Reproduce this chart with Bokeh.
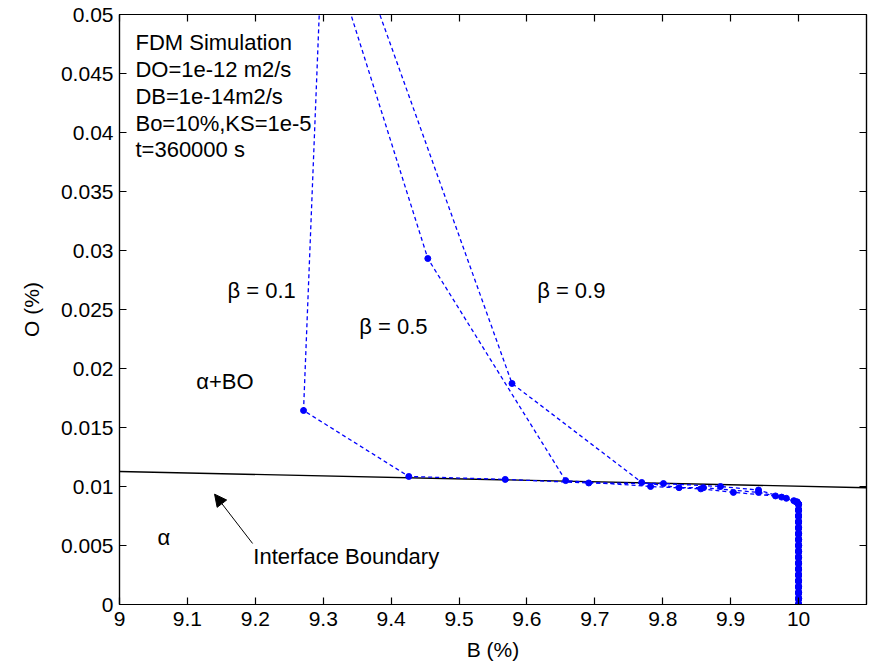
from bokeh.plotting import figure
from bokeh.models import (Range1d, LinearAxis, FixedTicker, CustomJSTickFormatter,
                          Label, Arrow, NormalHead)
from bokeh.embed import file_html
from bokeh.resources import INLINE

# ---- data -------------------------------------------------------------
# phase-interface boundary (B %, O %)
boundary_b = [9.0, 10.1]
boundary_o = [0.01127, 0.00990]

# shared tail of every diffusion path: B stays at 10 % while O drops to 0
tail_o = [0.0085, 0.0080, 0.0075, 0.0070, 0.0065, 0.0060, 0.0055, 0.0050, 0.0045,
          0.0040, 0.0035, 0.0030, 0.0025, 0.0020, 0.0015, 0.0010, 0.0005, 0.0]
tail_b = [10.0] * len(tail_o)

beta01_b = [9.301, 9.271, 9.426, 9.568, 9.691, 9.801, 9.885, 9.941, 9.982, 9.996]
beta01_o = [0.0600, 0.01644, 0.01085, 0.0106, 0.0103, 0.01025, 0.0100, 0.0097, 0.0090, 0.0087]

beta05_b = [9.286, 9.454, 9.657, 9.782, 9.856, 9.904, 9.966, 9.993]
beta05_o = [0.0600, 0.02932, 0.0105, 0.0100, 0.0098, 0.0095, 0.0092, 0.0088]

beta09_b = [9.321, 9.578, 9.769, 9.824, 9.860, 9.941, 9.975, 9.998]
beta09_o = [0.0600, 0.01873, 0.01034, 0.0099, 0.0099, 0.0095, 0.0091, 0.0087]

x_ticks = [9.0, 9.1, 9.2, 9.3, 9.4, 9.5, 9.6, 9.7, 9.8, 9.9, 10.0]
y_ticks = [0.0, 0.005, 0.01, 0.015, 0.02, 0.025, 0.03, 0.035, 0.04, 0.045, 0.05]

info_lines = ["FDM Simulation", "DO=1e-12 m2/s", "DB=1e-14m2/s",
              "Bo=10%,KS=1e-5", "t=360000 s"]

FONT = "Liberation Sans"
TICK_FS = "21px"
TEXT_FS = "22px"
BLUE = "#0000ff"

# ---- figure -----------------------------------------------------------
p = figure(width=872, height=667, output_backend="svg", toolbar_location=None,
           x_range=Range1d(9.0, 10.1), y_range=Range1d(0.0, 0.05),
           min_border_left=119, min_border_right=6, min_border_top=14,
           min_border_bottom=63)
p.grid.visible = False
p.outline_line_color = "black"
p.outline_line_width = 1.2
p.background_fill_color = "white"
p.border_fill_color = "white"

fmt = CustomJSTickFormatter(code="""
    var s = tick.toFixed(3);
    s = s.replace(/0+$/, '').replace(/\\.$/, '');
    return s;
""")
blank_fmt = CustomJSTickFormatter(code="return '';")

def style_axis(ax, ticks, formatter):
    ax.ticker = FixedTicker(ticks=ticks)
    ax.formatter = formatter
    ax.major_tick_in = 7
    ax.major_tick_out = 0
    ax.minor_tick_in = 0
    ax.minor_tick_out = 0
    ax.axis_line_color = "black"
    ax.axis_line_width = 1.2
    ax.major_tick_line_color = "black"
    ax.major_tick_line_width = 1.2
    ax.major_label_text_font = FONT
    ax.major_label_text_font_size = TICK_FS
    ax.major_label_text_color = "black"
    ax.axis_label_text_font = FONT
    ax.axis_label_text_font_size = TICK_FS
    ax.axis_label_text_font_style = "normal"
    ax.axis_label_text_color = "black"

style_axis(p.xaxis[0], x_ticks, fmt)
style_axis(p.yaxis[0], y_ticks, fmt)
p.xaxis[0].axis_label = "B (%)"
p.yaxis[0].axis_label = "O (%)"
p.xaxis[0].major_label_standoff = 7
p.xaxis[0].axis_label_standoff = 9
p.yaxis[0].major_label_standoff = 6
p.yaxis[0].axis_label_standoff = 15

# tick-only frame axes on the top and right
top_ax = LinearAxis()
style_axis(top_ax, x_ticks, blank_fmt)
top_ax.major_label_standoff = 0
right_ax = LinearAxis()
style_axis(right_ax, y_ticks, blank_fmt)
right_ax.major_label_standoff = 0
p.add_layout(top_ax, "above")
p.add_layout(right_ax, "right")

# interface boundary
p.line(boundary_b, boundary_o, line_color="black", line_width=1.4)

# diffusion paths
for bb, oo in [(beta01_b, beta01_o), (beta05_b, beta05_o), (beta09_b, beta09_o)]:
    xs = bb + tail_b
    ys = oo + tail_o
    p.line(xs, ys, line_color=BLUE, line_width=1.3, line_dash="4 3")
    p.scatter(xs, ys, marker="circle", size=6, fill_color=BLUE, line_color=BLUE)

p.line(tail_b, tail_o, line_color=BLUE, line_width=6)
p.scatter(tail_b, tail_o, marker="circle", size=6, fill_color=BLUE, line_color=BLUE)

# annotations
def add_text(x, y, text):
    p.add_layout(Label(x=x, y=y, text=text, text_font=FONT, text_font_size=TEXT_FS,
                       text_color="black", text_baseline="middle", text_align="left"))

for i, line in enumerate(info_lines):
    add_text(9.0235, 0.04763 - i * 0.002275, line)

add_text(9.159, 0.0266, "β = 0.1")
add_text(9.353, 0.0236, "β = 0.5")
add_text(9.615, 0.0266, "β = 0.9")
add_text(9.113, 0.0189, "α+BO")
add_text(9.056, 0.0057, "α")
add_text(9.197, 0.0041, "Interface Boundary")

p.add_layout(Arrow(x_start=9.196, y_start=0.00517, x_end=9.140, y_end=0.00935,
                   line_color="black", line_width=1,
                   end=NormalHead(size=12, fill_color="black", line_color="black")))

open("out.html", "w").write(file_html(p, INLINE))
